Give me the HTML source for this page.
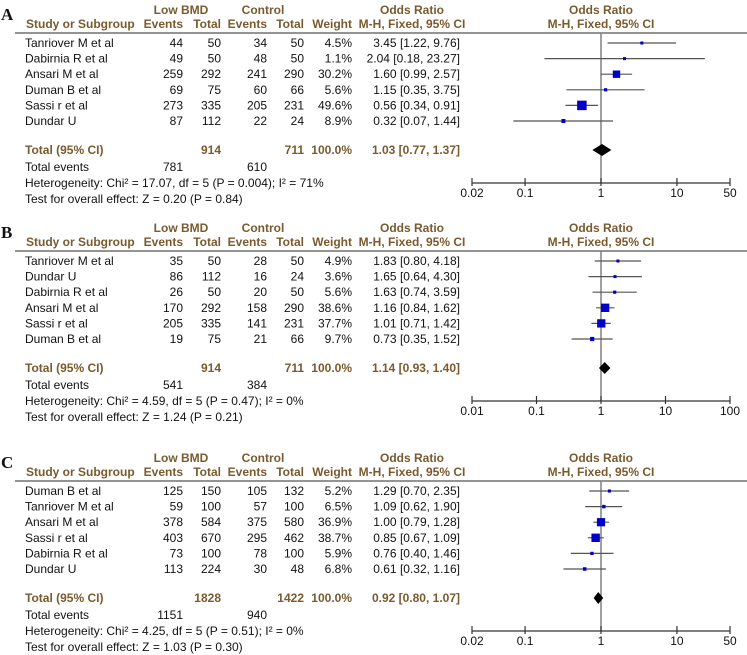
<!DOCTYPE html>
<html><head><meta charset="utf-8"><style>
html,body{margin:0;padding:0;background:#fff;}
svg{display:block;font-family:"Liberation Sans",Arial,sans-serif;}
</style></head><body>
<svg id="chart" width="747" height="655" viewBox="0 0 747 655"></svg>
<script>
const panelLetters = ["A","B","C"];
const panelLineY = [33, 251, 481];
const studiesA = ["Tanriover M et al","Dabirnia R et al","Ansari M et al","Duman B et al","Sassi r et al","Dundar U"];
const evA1 = [44,49,259,69,273,87]; const totA1 = [50,50,292,75,335,112];
const evA2 = [34,48,241,60,205,22]; const totA2 = [50,50,290,66,231,24];
const wA = [4.5,1.1,30.2,5.6,49.6,8.9];
const orA = [3.45,2.04,1.60,1.15,0.56,0.32];
const loA = [1.22,0.18,0.99,0.35,0.34,0.07];
const hiA = [9.76,23.27,2.57,3.75,0.91,1.44];
const studiesB = ["Tanriover M et al","Dundar U","Dabirnia R et al","Ansari M et al","Sassi r et al","Duman B et al"];
const evB1 = [35,86,26,170,205,19]; const totB1 = [50,112,50,292,335,75];
const evB2 = [28,16,20,158,141,21]; const totB2 = [50,24,50,290,231,66];
const wB = [4.9,3.6,5.6,38.6,37.7,9.7];
const orB = [1.83,1.65,1.63,1.16,1.01,0.73];
const loB = [0.80,0.64,0.74,0.84,0.71,0.35];
const hiB = [4.18,4.30,3.59,1.62,1.42,1.52];
const studiesC = ["Duman B et al","Tanriover M et al","Ansari M et al","Sassi r et al","Dabirnia R et al","Dundar U"];
const evC1 = [125,59,378,403,73,113]; const totC1 = [150,100,584,670,100,224];
const evC2 = [105,57,375,295,78,30]; const totC2 = [132,100,580,462,100,48];
const wC = [5.2,6.5,36.9,38.7,5.9,6.8];
const orC = [1.29,1.09,1.00,0.85,0.76,0.61];
const loC = [0.70,0.62,0.79,0.67,0.40,0.32];
const hiC = [2.35,1.90,1.28,1.09,1.46,1.16];
const totalN1 = [914,914,1828]; const totalN2 = [711,711,1422];
const totalEv1 = [781,541,1151]; const totalEv2 = [610,384,940];
const totalOR = [1.03,1.14,0.92]; const totalLo = [0.77,0.93,0.80]; const totalHi = [1.37,1.40,1.07];
const hetText = ["Heterogeneity: Chi² = 17.07, df = 5 (P = 0.004); I² = 71%","Heterogeneity: Chi² = 4.59, df = 5 (P = 0.47); I² = 0%","Heterogeneity: Chi² = 4.25, df = 5 (P = 0.51); I² = 0%"];
const testText = ["Test for overall effect: Z = 0.20 (P = 0.84)","Test for overall effect: Z = 1.24 (P = 0.21)","Test for overall effect: Z = 1.03 (P = 0.30)"];
const ticksAC = [0.02,0.1,1,10,50]; const tickLabelsAC = ["0.02","0.1","1","10","50"];
const ticksB = [0.01,0.1,1,10,100]; const tickLabelsB = ["0.01","0.1","1","10","100"];

const svg = document.getElementById('chart');
const NS = "http://www.w3.org/2000/svg";
function mk(tag, attrs, parent){const e=document.createElementNS(NS,tag);for(const k in attrs)e.setAttribute(k,attrs[k]);(parent||svg).appendChild(e);return e;}
function txt(s,x,y,anchor,opts,parent){const t=mk('text',{x:x,y:y,'text-anchor':anchor||'start','font-size':(opts&&opts.size)||12,fill:(opts&&opts.fill)||'#111','font-weight':(opts&&opts.bold)?'bold':'normal'},parent);if(opts&&opts.family)t.setAttribute('font-family',opts.family);t.textContent=s;return t;}
const BR = "#7a5a2e";
const X0 = 472, X1 = 730;
function fmt(v){return v.toFixed(2);}

const P = [
 {s:studiesA,e1:evA1,t1:totA1,e2:evA2,t2:totA2,w:wA,or:orA,lo:loA,hi:hiA,ticks:ticksAC,tl:tickLabelsAC,lmin:0.02,lmax:50},
 {s:studiesB,e1:evB1,t1:totB1,e2:evB2,t2:totB2,w:wB,or:orB,lo:loB,hi:hiB,ticks:ticksB,tl:tickLabelsB,lmin:0.01,lmax:100},
 {s:studiesC,e1:evC1,t1:totC1,e2:evC2,t2:totC2,w:wC,or:orC,lo:loC,hi:hiC,ticks:ticksAC,tl:tickLabelsAC,lmin:0.02,lmax:50}
];

P.forEach((p,pi)=>{
  const L = panelLineY[pi];
  const g = mk('g',{});
  
  
  const xs = v => X0 + (Math.log10(v)-Math.log10(p.lmin))/(Math.log10(p.lmax)-Math.log10(p.lmin))*(X1-X0);
  const lt = txt(panelLetters[pi],1,L-13,'start',{size:17,bold:true,family:'"Liberation Serif",serif'},g);
  
  
  // headers
  txt("Low BMD",181,L-19,'middle',{fill:BR,bold:true},g);
  txt("Control",263,L-19,'middle',{fill:BR,bold:true},g);
  txt("Odds Ratio",412,L-19,'middle',{fill:BR,bold:true},g);
  txt("Odds Ratio",601,L-19,'middle',{fill:BR,bold:true},g);
  txt("Study or Subgroup",26,L-5,'start',{fill:BR,bold:true},g);
  txt("Events",183,L-5,'end',{fill:BR,bold:true},g);
  txt("Total",221,L-5,'end',{fill:BR,bold:true},g);
  txt("Events",267,L-5,'end',{fill:BR,bold:true},g);
  txt("Total",304,L-5,'end',{fill:BR,bold:true},g);
  txt("Weight",352,L-5,'end',{fill:BR,bold:true},g);
  txt("M-H, Fixed, 95% CI",412,L-5,'middle',{fill:BR,bold:true},g);
  txt("M-H, Fixed, 95% CI",601,L-5,'middle',{fill:BR,bold:true},g);
  mk('line',{x1:15,x2:747,y1:L,y2:L,stroke:'#555','stroke-width':1.3},g);
  // null line
  const nl = mk('line',{x1:xs(1),x2:xs(1),y1:L,y2:L+150,stroke:'#777','stroke-width':1.4},g);
  
  
  p.s.forEach((name,i)=>{
    const y = L+10+i*15.6;
    const r = mk('g',{},g);
    
    
    txt(name,25,y+4,'start',{},r);
    txt(String(p.e1[i]),183,y+4,'end',{},r);
    txt(String(p.t1[i]),221,y+4,'end',{},r);
    txt(String(p.e2[i]),267,y+4,'end',{},r);
    txt(String(p.t2[i]),304,y+4,'end',{},r);
    txt(p.w[i].toFixed(1)+"%",352,y+4,'end',{},r);
    txt(fmt(p.or[i])+" ["+fmt(p.lo[i])+", "+fmt(p.hi[i])+"]",460,y+4,'end',{},r);
    const ci = mk('line',{x1:xs(p.lo[i]),x2:xs(p.hi[i]),y1:y,y2:y,stroke:'#555','stroke-width':1.2},r);
    
    
    const sz = Math.max(3, Math.sqrt(p.w[i])*1.35);
    const b = mk('rect',{x:xs(p.or[i])-sz/2,y:y-sz/2,width:sz,height:sz,fill:'#0000c8'},r);
    
    
  });
  const ty = L+117;
  txt("Total (95% CI)",25,ty+4,'start',{fill:BR,bold:true},g);
  txt(String(totalN1[pi]),221,ty+4,'end',{bold:true,fill:BR},g);
  txt(String(totalN2[pi]),304,ty+4,'end',{bold:true,fill:BR},g);
  txt("100.0%",352,ty+4,'end',{bold:true,fill:BR},g);
  txt(fmt(totalOR[pi])+" ["+fmt(totalLo[pi])+", "+fmt(totalHi[pi])+"]",460,ty+4,'end',{bold:true,fill:BR},g);
  const d = mk('polygon',{points:[xs(totalLo[pi])+','+ty, xs(totalOR[pi])+','+(ty-6), xs(totalHi[pi])+','+ty, xs(totalOR[pi])+','+(ty+6)].join(' '),fill:'#000'},g);
  
  
  txt("Total events",25,L+138,'start',{},g);
  txt(String(totalEv1[pi]),183,L+138,'end',{},g);
  txt(String(totalEv2[pi]),267,L+138,'end',{},g);
  txt(hetText[pi],25,L+154,'start',{},g);
  txt(testText[pi],25,L+170,'start',{},g);
  // axis
  const ay = L+150;
  const ax = mk('line',{x1:X0,x2:X1,y1:ay,y2:ay,stroke:'#333','stroke-width':1.2},g);
  
  
  p.ticks.forEach((t,k)=>{
    mk('line',{x1:xs(t),x2:xs(t),y1:ay-5,y2:ay+3,stroke:'#333','stroke-width':1.2},g);
    const tl = txt(p.tl[k],xs(t),ay+14,'middle',{},g);
    
    
  });
});
</script>
</body></html>
